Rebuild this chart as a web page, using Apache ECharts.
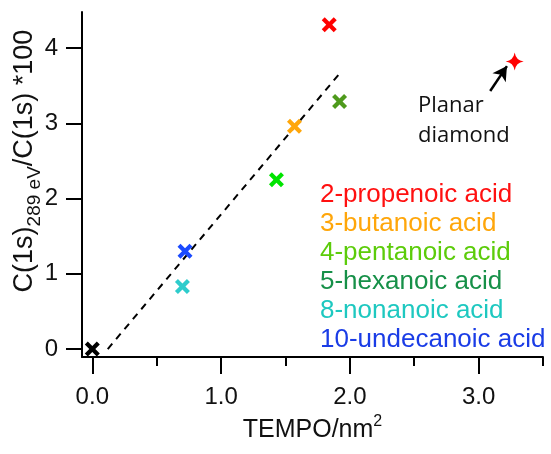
<!DOCTYPE html>
<html>
<head>
<meta charset="utf-8">
<script src="https://cdn.jsdelivr.net/npm/echarts@6/dist/echarts.min.js"></script>
<style>
html,body{margin:0;padding:0;background:#fff;}
#chart{width:551px;height:454px;}
</style>
</head>
<body>
<div id="chart"></div>
<script>
// ---- data ----
const acidNames = ['2-propenoic acid','3-butanoic acid','4-pentanoic acid','5-hexanoic acid','8-nonanoic acid','10-undecanoic acid'];
const acidX = [1.84, 1.57, 1.92, 1.43, 0.70, 0.72];
const acidY = [4.31, 2.96, 3.29, 2.25, 0.83, 1.30];
const refPoint = [0.0, 0.0];
const diamondPoint = [3.28, 3.82];
const fitLine = [[0.12, 0.0], [1.92, 3.66]];
const arrowFrom = [3.09, 3.43];
const arrowTo = [3.22, 3.76];
const xMajorTicks = [0, 1, 2, 3];
const xMinorTicks = [0.5, 1.5, 2.5, 3.5];
const yTicks = [0, 1, 2, 3, 4];

// ---- styles ----
const markerColors = ['#ff0000','#ffa60a','#4e9a1c','#00e400','#2ecccc','#1a4aff'];
const textColors = ['#ff1010','#ffa60a','#5ccc0a','#169048','#1ec8c0','#1a3ce6'];
const crossPath = 'path://M0,4 L4,0 L10,6 L16,0 L20,4 L14,10 L20,16 L16,20 L10,14 L4,20 L0,16 L6,10 Z';
const starPath = 'path://M10,0 Q11.3,8.7 20,10 Q11.3,11.3 10,20 Q8.7,11.3 0,10 Q8.7,8.7 10,0 Z';
const FONT = 'Liberation Sans, Arial, sans-serif';

const chart = echarts.init(document.getElementById('chart'), null, {renderer: 'canvas'});

const series = acidNames.map((n, i) => ({
  name: n,
  type: 'scatter',
  symbol: crossPath,
  symbolSize: 15,
  itemStyle: {color: markerColors[i], opacity: 1},
  data: [[acidX[i], acidY[i]]],
  z: 5
}));
series.push({
  type: 'line',
  data: fitLine,
  showSymbol: false,
  symbol: 'none',
  lineStyle: {color: '#000', width: 2, type: [7, 6]},
  z: 3,
  silent: true
});
series.push({
  type: 'scatter',
  symbol: crossPath,
  symbolSize: 15,
  itemStyle: {color: '#000', opacity: 1},
  data: [refPoint],
  z: 5
});
series.push({
  type: 'scatter',
  symbol: starPath,
  symbolSize: 18,
  itemStyle: {color: '#ff0000', opacity: 1},
  data: [diamondPoint],
  z: 5,
  markLine: {
    silent: true,
    symbol: ['none', 'arrow'],
    symbolSize: [12, 14],
    label: {show: false},
    lineStyle: {color: '#000', width: 2.5, type: 'solid', opacity: 1},
    data: [[{coord: arrowFrom}, {coord: arrowTo}]]
  }
});

const option = {
  animation: false,
  backgroundColor: '#fff',
  grid: {left: 82, right: 8, top: 12, bottom: 97, containLabel: false, outerBoundsMode: 'none'},
  xAxis: [{
    type: 'value',
    min: -0.08, max: 3.5,
    splitLine: {show: false},
    axisLine: {show: true, onZero: false, lineStyle: {color: '#000', width: 2}},
    axisTick: {show: true, customValues: xMajorTicks, length: 17, lineStyle: {color: '#000', width: 2}},
    axisLabel: {customValues: xMajorTicks, formatter: v => v.toFixed(1), fontSize: 24, color: '#111', margin: 28, fontFamily: FONT},
    name: 'TEMPO/nm{sup|2}',
    nameLocation: 'middle',
    nameGap: 56,
    nameTextStyle: {fontSize: 25, color: '#111', fontFamily: FONT,
      rich: {sup: {fontSize: 16, verticalAlign: 'top', color: '#111', fontFamily: FONT, lineHeight: 32}}}
  }, {
    type: 'value',
    min: -0.08, max: 3.5,
    position: 'bottom',
    splitLine: {show: false},
    axisLine: {show: false, onZero: false},
    axisTick: {show: true, customValues: xMinorTicks, length: 9, lineStyle: {color: '#000', width: 2}},
    axisLabel: {show: false}
  }],
  yAxis: {
    type: 'value',
    min: -0.106, max: 4.479,
    splitLine: {show: false},
    axisLine: {show: true, onZero: false, lineStyle: {color: '#000', width: 2}},
    axisTick: {show: true, customValues: yTicks, length: 16, lineStyle: {color: '#000', width: 2}},
    axisLabel: {customValues: yTicks, formatter: v => String(Math.round(v)), fontSize: 24, color: '#111', margin: 24, fontFamily: FONT}
  },
  legend: {
    orient: 'vertical',
    left: 315, top: 180,
    padding: 0,
    itemGap: 0,
    itemWidth: 0,
    itemHeight: 29,
    icon: 'none',
    selectedMode: false,
    textStyle: {fontSize: 26, fontFamily: FONT, lineHeight: 29},
    data: acidNames.map((n, i) => ({name: n, icon: 'none', textStyle: {color: textColors[i]}}))
  },
  graphic: [{
    type: 'text',
    x: 25, y: 161,
    rotation: Math.PI / 2,
    style: {
      text: 'C(1s){sub|289 eV}/C(1s) *100',
      fontSize: 27,
      fontFamily: FONT,
      fill: '#111',
      align: 'center',
      verticalAlign: 'middle',
      lineHeight: 38,
      rich: {sub: {fontSize: 19, verticalAlign: 'bottom', lineHeight: 38, fontFamily: FONT, fill: '#111'}}
    }
  }, {
    type: 'text',
    left: 418, top: 91,
    style: {
      text: 'Planar\ndiamond',
      fontSize: 22,
      lineHeight: 30,
      fontFamily: 'Open Sans, sans-serif',
      fill: '#111'
    }
  }],
  series: series
};
chart.setOption(option);
</script>
</body>
</html>
